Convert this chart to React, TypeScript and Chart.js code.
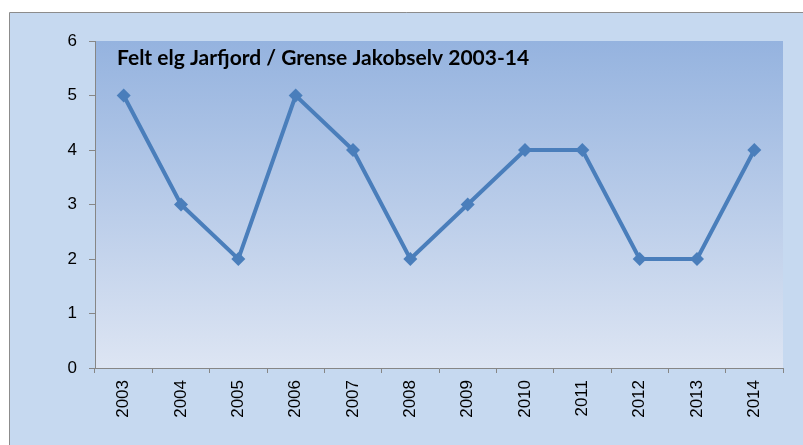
import React, { useEffect, useRef } from "react";
import { Chart, registerables } from "chart.js";

Chart.register(...registerables);

const years = ["2003", "2004", "2005", "2006", "2007", "2008", "2009", "2010", "2011", "2012", "2013", "2014"];
const felt = [5, 3, 2, 5, 4, 2, 3, 4, 4, 2, 2, 4];
const yTicks = [0, 1, 2, 3, 4, 5, 6];
const titleText = "Felt elg Jarfjord / Grense Jakobselv 2003-14";

const bgPlugin = {
  id: "bgPlugin",
  beforeDraw(chart: any) {
    const { ctx, chartArea } = chart;
    ctx.save();
    ctx.fillStyle = "#ffffff";
    ctx.fillRect(0, 0, chart.width, chart.height);
    ctx.fillStyle = "#C6D9F0";
    ctx.fillRect(10, 12, chart.width, chart.height);
    ctx.strokeStyle = "#8C8C8C";
    ctx.lineWidth = 1;
    ctx.beginPath();
    ctx.moveTo(9.5, chart.height + 2);
    ctx.lineTo(9.5, 12.5);
    ctx.lineTo(chart.width + 2, 12.5);
    ctx.stroke();
    const g = ctx.createLinearGradient(0, chartArea.top, 0, chartArea.bottom);
    g.addColorStop(0, "#95B3DF");
    g.addColorStop(1, "#DDE5F3");
    ctx.fillStyle = g;
    ctx.fillRect(chartArea.left, chartArea.top, chartArea.right - chartArea.left, chartArea.bottom - chartArea.top);
    ctx.restore();
  },
  afterDatasetsDraw(chart: any) {
    const { ctx, chartArea } = chart;
    ctx.save();
    ctx.fillStyle = "#000000";
    ctx.font = "bold 21px Lato";
    ctx.textAlign = "left";
    ctx.textBaseline = "alphabetic";
    ctx.fillText(titleText, chartArea.left + 22, chartArea.top + 23.5);
    ctx.restore();
  },
};

export default function App() {
  const ref = useRef<HTMLCanvasElement>(null);
  useEffect(() => {
    if (!ref.current) return;
    const chart = new Chart(ref.current, {
      type: "line",
      data: {
        labels: years,
        datasets: [
          {
            data: felt,
            borderColor: "#4A7EBB",
            backgroundColor: "#4A7EBB",
            borderWidth: 4,
            pointStyle: "rectRot",
            pointRadius: 7,
            pointBorderWidth: 0,
            tension: 0,
          },
        ],
      },
      options: {
        responsive: false,
        devicePixelRatio: 1,
        animation: false,
        layout: { padding: { left: 0, top: 41, right: 20, bottom: 0 } },
        plugins: { legend: { display: false }, tooltip: { enabled: false }, title: { display: false } },
        scales: {
          x: {
            type: "category",
            offset: true,
            afterFit: (s: any) => {
              s.height = 77;
            },
            grid: {
              offset: true,
              drawOnChartArea: false,
              drawTicks: true,
              tickLength: 5,
              tickColor: "#868686",
            },
            border: { display: true, color: "#868686", width: 1 },
            ticks: {
              autoSkip: false,
              minRotation: 90,
              maxRotation: 90,
              padding: 7,
              color: "#000000",
              font: { family: "Liberation Sans", size: 17 },
            },
          },
          y: {
            min: 0,
            max: 6,
            afterFit: (s: any) => {
              s.width = 95;
            },
            afterBuildTicks: (s: any) => {
              s.ticks = yTicks.map((v) => ({ value: v }));
            },
            grid: {
              drawOnChartArea: false,
              drawTicks: true,
              tickLength: 6,
              tickColor: "#868686",
            },
            border: { display: true, color: "#868686", width: 1 },
            ticks: {
              padding: 12,
              color: "#000000",
              font: { family: "Liberation Sans", size: 17 },
            },
          },
        },
      },
      plugins: [bgPlugin],
    });
    return () => chart.destroy();
  }, []);
  return (
    <div style={{ position: "absolute", left: 0, top: 0, width: 803, height: 445 }}>
      <canvas ref={ref} width={803} height={445} style={{ display: "block", width: 803, height: 445 }} />
    </div>
  );
}
